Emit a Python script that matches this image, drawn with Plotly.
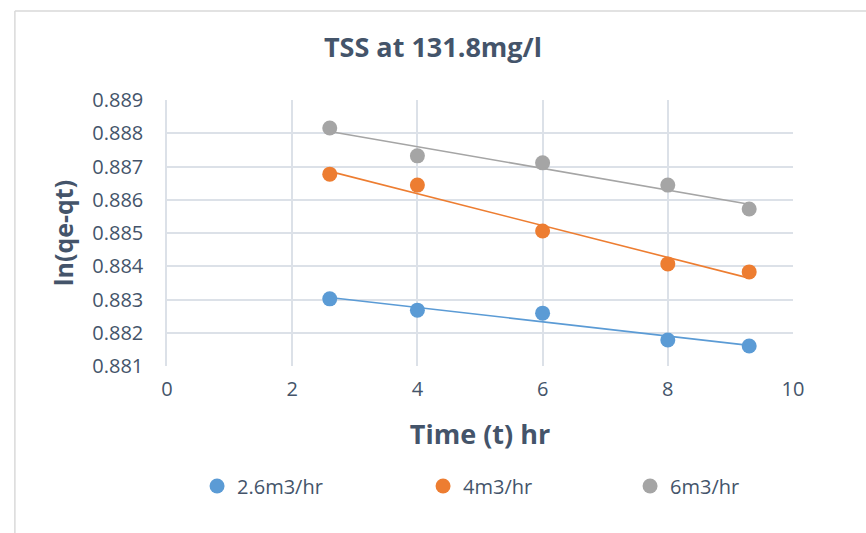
import numpy as np
import plotly.graph_objects as go

time_hr = [2.6, 4, 6, 8, 9.3]
series_names = ["2.6m3/hr", "4m3/hr", "6m3/hr"]
flow_26 = [0.88302, 0.88268, 0.88259, 0.88178, 0.88160]
flow_4 = [0.88677, 0.88644, 0.88506, 0.88407, 0.88383]
flow_6 = [0.88816, 0.88732, 0.88711, 0.88644, 0.88572]
colors = ["#5B9BD5", "#ED7D31", "#A5A5A5"]
y_ticks = [0.881, 0.882, 0.883, 0.884, 0.885, 0.886, 0.887, 0.888, 0.889]
x_ticks = [0, 2, 4, 6, 8, 10]

FONT = "Open Sans"
TXT = "#44546A"
legend_widths = [181, 162, 90]

fig = go.Figure()
for name, ys, c, lw in zip(series_names, [flow_26, flow_4, flow_6], colors, legend_widths):
    fig.add_trace(go.Scatter(x=time_hr, y=ys, mode="markers", name=name,
                             marker=dict(color=c, size=15), legendwidth=lw))
for ys, c in zip([flow_26, flow_4, flow_6], colors):
    k, b = np.polyfit(time_hr, ys, 1)
    xs = [time_hr[0], time_hr[-1]]
    fig.add_trace(go.Scatter(x=xs, y=[k * v + b for v in xs], mode="lines",
                             line=dict(color=c, width=1.6), showlegend=False,
                             hoverinfo="skip"))

fig.update_layout(
    width=866, height=533,
    margin=dict(l=167, r=73, t=100, b=167),
    paper_bgcolor="white", plot_bgcolor="white",
    font=dict(family=FONT, color=TXT, size=20),
    title=dict(text="<b>TSS at 131.8mg/l</b>", x=0.5, xanchor="center",
               y=0.91, yanchor="middle", font=dict(size=27, color=TXT, family=FONT)),
    xaxis=dict(range=[0, 10], tickvals=x_ticks, showgrid=True, gridcolor="#DCE1E8",
               gridwidth=1.5, zeroline=False, showline=False,
               ticks="outside", ticklen=5, tickcolor="rgba(0,0,0,0)",
               tickfont=dict(size=20, color=TXT),
               title=dict(text="<b>Time (t) hr</b>", font=dict(size=27, color=TXT), standoff=24)),
    yaxis=dict(range=[0.881, 0.889], tickvals=y_ticks, tickformat=".3f",
               showgrid=True, gridcolor="#DCE1E8", gridwidth=1.5, zeroline=False,
               showline=True, linecolor="#DCE1E8", linewidth=1.5,
               ticks="outside", ticklen=18, tickcolor="rgba(0,0,0,0)",
               tickfont=dict(size=20, color=TXT),
               title=dict(text="<b>ln(qe-qt)</b>", font=dict(size=25, color=TXT), standoff=12)),
    legend=dict(orientation="h", x=0.048, y=-0.451, xanchor="left", yanchor="middle",
                font=dict(size=20, color=TXT), itemclick=False, tracegroupgap=0),
    showlegend=True,
)
fig.add_shape(type="line", xref="paper", yref="paper", x0=-0.243, x1=1.2, y0=1.335, y1=1.335,
              line=dict(color="#D9D9D9", width=1.5))
fig.add_shape(type="line", xref="paper", yref="paper", x0=-0.243, x1=-0.243, y0=-0.7, y1=1.335,
              line=dict(color="#D9D9D9", width=1.5))
fig.write_html("out.html")
